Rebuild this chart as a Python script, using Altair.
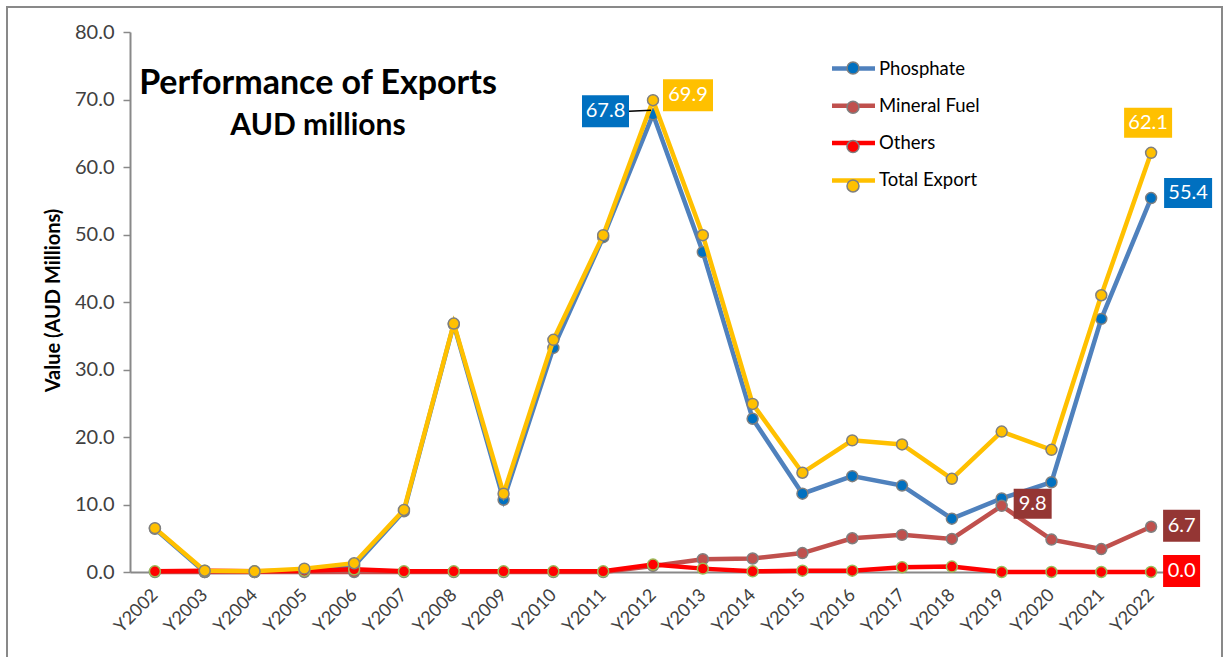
import altair as alt
import pandas as pd

years = ["Y2002", "Y2003", "Y2004", "Y2005", "Y2006", "Y2007", "Y2008",
         "Y2009", "Y2010", "Y2011", "Y2012", "Y2013", "Y2014", "Y2015",
         "Y2016", "Y2017", "Y2018", "Y2019", "Y2020", "Y2021", "Y2022"]

phosphate = [6.4, 0.0, 0.0, 0.3, 0.9, 9.0, 36.7, 10.7, 33.2, 49.6, 67.8,
             47.4, 22.7, 11.6, 14.2, 12.8, 7.9, 10.9, 13.3, 37.5, 55.4]
mineral_fuel = [0.0, 0.0, 0.0, 0.0, 0.0, 0.0, 0.0, 0.0, 0.0, 0.0, 0.9,
                1.9, 2.0, 2.8, 5.0, 5.5, 4.9, 9.8, 4.8, 3.4, 6.7]
others = [0.1, 0.2, 0.1, 0.2, 0.4, 0.1, 0.1, 0.1, 0.1, 0.1, 1.1,
          0.5, 0.1, 0.2, 0.2, 0.7, 0.8, 0.0, 0.0, 0.0, 0.0]
total_export = [6.5, 0.2, 0.1, 0.5, 1.3, 9.2, 36.8, 11.6, 34.4, 49.9, 69.9,
                49.9, 24.9, 14.7, 19.5, 18.9, 13.8, 20.8, 18.1, 41.0, 62.1]

series_names = ["Phosphate", "Mineral Fuel", "Others", "Total Export"]
series_values = [phosphate, mineral_fuel, others, total_export]

line_colors = ["#4F81BD", "#C0504D", "#FF0000", "#FFC000"]
point_fills = ["#0070C0", "#C0504D", "#FF0000", "#FFC000"]
point_strokes = ["#7F7F7F", "#7F7F7F", "#9BBB59", "#7F7F7F"]

# marker legend uses its own keys so that it is not merged with the line legend
marker_keys = [n + " " for n in series_names]

rows = []
for name, key, vals in zip(series_names, marker_keys, series_values):
    for yr, v in zip(years, vals):
        rows.append({"year": yr, "value": v, "series": name, "series_p": key})
df = pd.DataFrame(rows)

FONT = "Lato"
AXIS_GREY = "#898989"
TEXT_GREY = "#404040"

x_enc = alt.X("year:O", sort=years, title=None,
              axis=alt.Axis(labelAngle=315, labelAlign="right", labelBaseline="middle",
                            labelPadding=20, ticks=False, domainColor=AXIS_GREY,
                            domainWidth=2, labelFont=FONT, labelFontSize=18,
                            labelColor=TEXT_GREY, grid=False))
y_enc = alt.Y("value:Q", scale=alt.Scale(domain=[0, 80], nice=False),
              title="Value (AUD Millions)",
              axis=alt.Axis(values=[0, 10, 20, 30, 40, 50, 60, 70, 80], format=".1f",
                            grid=False, domainColor=AXIS_GREY, domainWidth=2,
                            tickColor=AXIS_GREY, tickSize=7, tickWidth=1.5,
                            labelFont=FONT, labelFontSize=20, labelColor=TEXT_GREY,
                            labelPadding=9, titleFont=FONT, titleFontSize=20,
                            titleFontWeight="bold", titleColor="black",
                            titleX=-67, titleY=268, titleAngle=270,
                            titleAlign="center", titleBaseline="bottom"))

base = alt.Chart(df)

frame = alt.Chart(pd.DataFrame({"k": [0]})).mark_rect(
    fillOpacity=0, stroke=AXIS_GREY, strokeWidth=2
).encode(x=alt.value(-123), x2=alt.value(1092), y=alt.value(-25), y2=alt.value(720))

line_legend = alt.Legend(title=None, orient="none", legendX=711, legendY=24,
                         symbolType="M-2.15,0L2.15,0", symbolSize=400,
                         symbolStrokeWidth=4.5, labelFont=FONT, labelFontSize=18.5,
                         labelColor="black", labelOffset=13, rowPadding=15.3,
                         zindex=1)
point_legend = alt.Legend(title=None, orient="none", legendX=712, legendY=25,
                          symbolType="M-0.6,0A0.6,0.6,0,1,1,0.6,0A0.6,0.6,0,1,1,-0.6,0Z",
                          symbolSize=400, symbolStrokeWidth=1.5,
                          symbolStrokeColor="#7F7F7F", labelFont=FONT,
                          labelFontSize=18.5, labelExpr="''", labelOffset=13,
                          rowPadding=18.3, zindex=2)

layers = [frame]
for name, pstroke in zip(series_names, point_strokes):
    sel = base.transform_filter(alt.datum.series == name)
    layers.append(sel.mark_line(strokeWidth=4.5).encode(
        x=x_enc, y=y_enc,
        stroke=alt.Stroke("series:N", scale=alt.Scale(domain=series_names, range=line_colors),
                          legend=line_legend)))
    layers.append(sel.mark_point(size=120, opacity=1, strokeWidth=1.5, stroke=pstroke).encode(
        x=x_enc, y=y_enc,
        fill=alt.Fill("series_p:N", scale=alt.Scale(domain=marker_keys, range=point_fills),
                      legend=point_legend)))

# data labels: (series, year, box colour, box path in 10px units, text dx, text dy)
labels = [
    ("Phosphate", "Y2012", "#0070C0", "M-7.1,-1.9L-2.4,-1.9L-2.4,1.3L-7.1,1.3Z", -47.5, -3),
    ("Total Export", "Y2012", "#FFC000", "M1.0,-2.1L6.0,-2.1L6.0,1.1L1.0,1.1Z", 35, -5),
    ("Total Export", "Y2022", "#FFC000", "M-2.7,-4.5L2.1,-4.5L2.1,-1.5L-2.7,-1.5Z", -3, -30),
    ("Phosphate", "Y2022", "#0070C0", "M1.3,-2.0L6.1,-2.0L6.1,1.0L1.3,1.0Z", 37, -5),
    ("Mineral Fuel", "Y2019", "#943634", "M1.2,-1.7L5.0,-1.7L5.0,1.3L1.2,1.3Z", 31, -2),
    ("Mineral Fuel", "Y2022", "#943634", "M1.2,-1.7L4.9,-1.7L4.9,1.5L1.2,1.5Z", 30.5, -1),
    ("Others", "Y2022", "#FF0000", "M1.2,-1.7L4.9,-1.7L4.9,1.5L1.2,1.5Z", 30.5, -1),
]

for name, yr, col, path, dx, dy in labels:
    sel = base.transform_filter((alt.datum.series == name) & (alt.datum.year == yr))
    if name == "Phosphate" and yr == "Y2012":
        layers.append(sel.mark_point(shape="M-2.4,-0.3L-0.2,-0.4", size=400, filled=False,
                                     stroke="black", strokeWidth=1.5, opacity=1).encode(
            x=x_enc, y=y_enc))
    layers.append(sel.mark_point(shape=path, size=400, filled=True, color=col,
                                 opacity=1, strokeWidth=0).encode(x=x_enc, y=y_enc))
    layers.append(sel.mark_text(dx=dx, dy=dy, color="white", font=FONT, fontSize=20,
                                align="center", baseline="middle").encode(
        x=x_enc, y=y_enc, text=alt.Text("value:Q", format=".1f")))

chart = alt.layer(*layers).properties(
    width=1046, height=540,
    padding={"left": 130, "top": 32, "right": 50, "bottom": 85},
    autosize=alt.AutoSizeParams(type="none"),
    background="white",
    title=alt.TitleParams(text="Performance of Exports", subtitle="AUD millions",
                          font=FONT, fontSize=34, fontWeight="bold", color="black",
                          subtitleFont=FONT, subtitleFontSize=30,
                          subtitleFontWeight="bold", subtitleColor="black",
                          subtitlePadding=10, anchor="start", align="center",
                          orient="top", frame="group", dx=188, dy=135, offset=0)
).configure_view(stroke="transparent").configure_axisLeft(
    titleFontSize=20, titleFont=FONT, titleFontWeight="bold"
)

chart.save("out.html", embed_options={"renderer": "svg", "actions": False})
